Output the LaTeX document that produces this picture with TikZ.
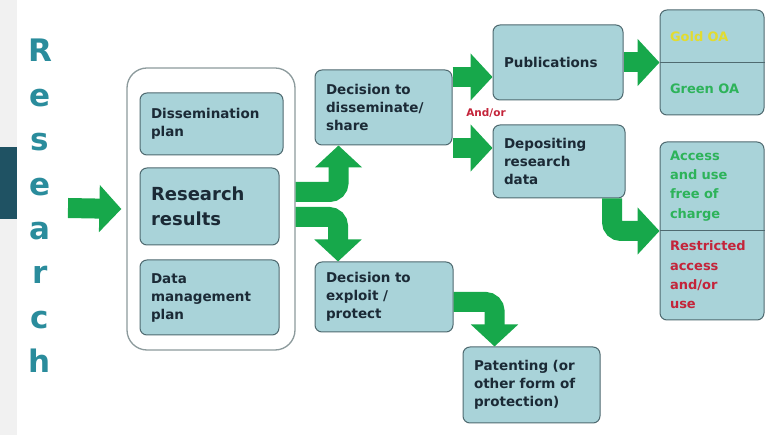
\documentclass[tikz,border=0pt]{standalone}
\usepackage{fontspec}
\setmainfont{DejaVu Sans}
\usetikzlibrary{arrows.meta}
\definecolor{boxfill}{HTML}{A9D3D9}
\definecolor{boxline}{HTML}{4F6A70}
\definecolor{contline}{HTML}{8C9A9C}
\definecolor{arrgreen}{HTML}{17A84B}
\definecolor{inktext}{HTML}{1B2A36}
\definecolor{letterteal}{HTML}{2A8C9C}
\definecolor{stripgray}{HTML}{F1F1F1}
\definecolor{stripdark}{HTML}{1F5263}
\definecolor{oagreen}{HTML}{2DB35A}
\definecolor{oared}{HTML}{C4243A}
\definecolor{oayellow}{HTML}{E2DC30}

\begin{document}
\begin{tikzpicture}[x=1pt, y=-1pt,
        box/.style={rectangle, draw=boxline, line width=1pt, rounded corners=7pt,
                    fill=boxfill, text=inktext, align=left, inner xsep=11pt, inner ysep=0pt,
                    font=\bfseries\fontsize{13.5}{18}\selectfont},
        cont/.style={rectangle, draw=contline, line width=1.3pt, rounded corners=20pt,
                     fill=white, minimum width=168pt, minimum height=282pt},
        oatext/.style={text width=84pt, align=left, inner sep=0pt,
                       font=\bfseries\fontsize{13}{19.3}\selectfont},
        vletter/.style={anchor=base, text=letterteal, inner sep=0pt,
                        font=\bfseries\fontsize{31}{31}\selectfont},
        andor/.style={text=oared, inner sep=0pt, font=\bfseries\fontsize{10.5}{12}\selectfont},
        garr/.style={draw=arrgreen, line width=20pt, -{Triangle[length=22pt,width=46pt]}}]
      \useasboundingbox (0,0) rectangle (766,435);
      \fill[white] (0,0) rectangle (766,435);
      \fill[stripgray] (0,0) rectangle (17,435);
      \fill[stripdark] (0,147) rectangle (17,219);

      % vertical title
      \foreach \ch [count=\i from 0] in {R,e,s,e,a,r,c,h}
        \node[vletter] (t\i) at (40,{62+44.4*\i}) {\ch};

      % research results group
      \node[cont] (cont) at (211,209) {};
      \node[box, text width=121pt, minimum height=62pt] (diss) at (211.5,124) {Dissemination\\plan};
      \node[box, text width=117pt, minimum height=77pt, font=\bfseries\fontsize{18}{25}\selectfont] (rr) at (209.5,206.5) {Research\\results};
      \node[box, text width=117pt, minimum height=75pt] (dmp) at (209.5,297.5) {Data\\management\\plan};

      % decisions and outcomes
      \node[box, text width=115pt, minimum height=75pt] (dds) at (383.5,107.5) {Decision to\\disseminate/\\share};
      \node[box, text width=116pt, minimum height=70pt] (dep) at (384,297) {Decision to\\exploit /\\protect};
      \node[box, text width=108pt, minimum height=75pt] (pub) at (558,62.5) {Publications};
      \node[box, text width=110pt, minimum height=73pt] (drd) at (559,161.5) {Depositing\\research\\data};
      \node[box, text width=115pt, minimum height=76pt] (pat) at (531.5,385) {Patenting (or\\other form of\\protection)};
      \node[andor] (andor) at (486,113) {And/or};

      % split boxes on the right
      \node[box, minimum width=104pt, minimum height=105pt] (oa) at (712,62.5) {};
      \draw[boxline, line width=1pt] (oa.west) -- (oa.east);
      \node[oatext, text=oayellow] (gold) at (712,36.5) {Gold OA};
      \node[oatext, text=oagreen] (green) at (712,89) {Green OA};
      \node[box, minimum width=104pt, minimum height=178pt] (acc) at (712,231) {};
      \draw[boxline, line width=1pt] (acc.west) -- (acc.east);
      \node[oatext, text=oagreen] (free) at (712,186) {Access\\and use\\free of\\charge};
      \node[oatext, text=oared] (restr) at (712,275) {Restricted\\access\\and/or\\use};

      % block arrows
      \coordinate (src) at (68,208);
      \draw[garr] (src) -- ([xshift=-5pt]cont.west);
      \draw[garr, rounded corners=9pt] (cont.east |- 0,192) -| ([xshift=-45pt]dds.south);
      \draw[garr, rounded corners=9pt] (cont.east |- 0,217) -| ([xshift=-46pt]dep.north);
      \draw[garr] (dds.east |- 0,77) -- (pub.west |- 0,77);
      \draw[garr] (dds.east |- 0,148) -- (drd.west |- 0,148);
      \draw[garr] (pub.east) -- (oa.west);
      \draw[garr, rounded corners=9pt] ([xshift=53pt]drd.south) |- (acc.west);
      \draw[garr, rounded corners=9pt] (dep.east |- 0,302) -| ([xshift=-37pt]pat.north);
    \end{tikzpicture}
\end{document}
